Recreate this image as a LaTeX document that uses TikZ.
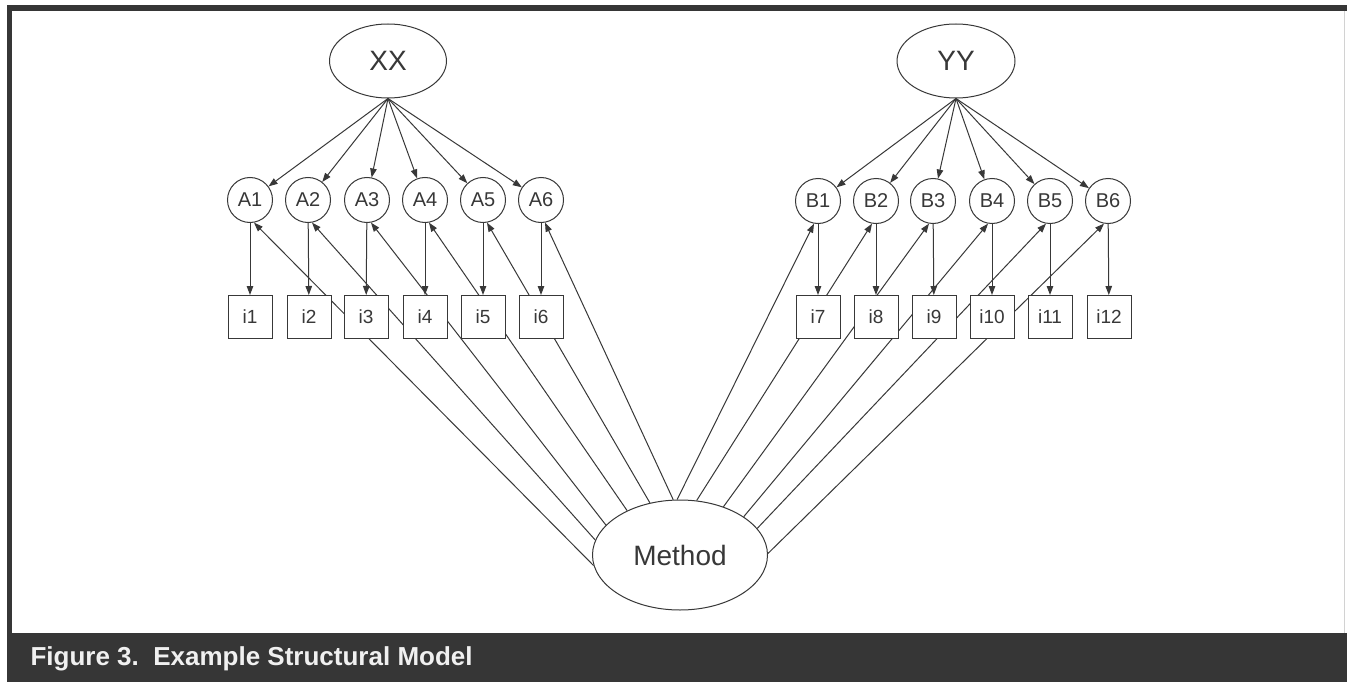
\documentclass[tikz,border=0pt]{standalone}
\usepackage{fontspec}
\setmainfont{Liberation Sans}
\usetikzlibrary{arrows.meta,shapes.geometric}
\definecolor{ink}{HTML}{383838}
\definecolor{framegray}{HTML}{363636}
\pgfdeclarelayer{paper}
\pgfdeclarelayer{edges}
\pgfsetlayers{paper,edges,main}
\begin{document}
\begin{tikzpicture}[x=1pt,y=-1pt,
  latent/.style={ellipse,draw=ink,line width=1pt,fill=white,inner sep=0pt,
    font=\fontsize{28}{30}\selectfont,text=ink},
  factor/.style={circle,draw=ink,line width=1pt,fill=white,inner sep=0pt,
    minimum size=45pt,font=\fontsize{20}{22}\selectfont,text=ink},
  item/.style={rectangle,draw=ink,line width=1pt,fill=white,inner sep=0pt,
    minimum width=44pt,minimum height=43pt,font=\fontsize{19}{21}\selectfont,text=ink},
  link/.style={draw=ink,line width=1pt,-{Triangle[length=9pt,width=6.5pt]}}
]
% page, frame and caption band
\begin{pgfonlayer}{paper}
  \fill[white] (0,0) rectangle (1347,682);
  \fill[framegray] (7,5) rectangle (1347,11);
  \fill[framegray] (7,5) rectangle (12,633);
  \fill[framegray] (7,633) rectangle (1347,682);
  \draw[gray!35,line width=1pt] (1344.5,11) -- (1344.5,633);
\end{pgfonlayer}
\node[anchor=base west,text=white!94!black,font=\bfseries\fontsize{26}{28}\selectfont]
  (caption) at (27,665) {Figure 3.\ \ Example Structural Model};

% latent variables
\node[latent,minimum width=117pt,minimum height=74pt] (XX) at (388,61) {XX};
\node[latent,minimum width=118pt,minimum height=74pt] (YY) at (956,61) {YY};
\node[latent,minimum width=175pt,minimum height=110pt] (Method) at (680,555) {Method};

% first-order factors
\foreach \n/\x in {1/250,2/308,3/367,4/425,5/483,6/541}
  \node[factor] (A\n) at (\x,200) {A\n};
\foreach \n/\x in {1/818,2/876,3/933,4/992,5/1050,6/1108}
  \node[factor] (B\n) at (\x,201) {B\n};

% indicators
\foreach \n/\x in {1/250,2/309,3/366,4/425,5/483,6/541,7/818,8/876,9/934,10/992,11/1050,12/1109}
  \node[item] (i\n) at (\x,317) {i\n};

% loadings and method paths (kept under the nodes)
\begin{pgfonlayer}{edges}
  \foreach \n in {1,...,6} {
    \draw[link] (XX.south) -- (A\n);
    \draw[link] (A\n) -- (i\n);
  }
  \foreach \n/\m in {1/7,2/8,3/9,4/10,5/11,6/12} {
    \draw[link] (YY.south) -- (B\n);
    \draw[link] (B\n) -- (i\m);
  }
  \foreach \n/\a in {1/187,2/170,3/158,4/140,5/120,6/97}
    \draw[link] (Method.\a) -- (A\n.-80);
  \foreach \n/\a in {1/93,2/73,3/48,4/31,5/19,6/1}
    \draw[link] (Method.\a) -- (B\n.-100);
\end{pgfonlayer}
\end{tikzpicture}
\end{document}
